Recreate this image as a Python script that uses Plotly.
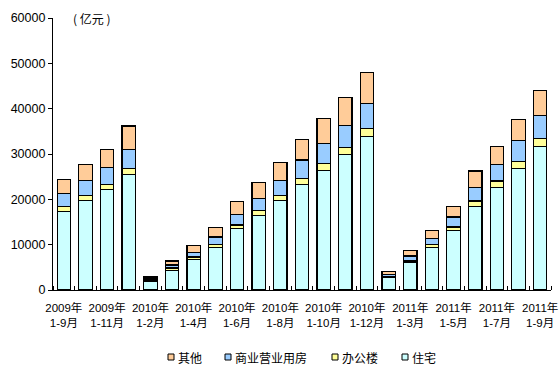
import plotly.graph_objects as go

periods = ["2009年<br>1-9月", "2009年<br>1-10月", "2009年<br>1-11月", "2009年<br>1-12月",
           "2010年<br>1-2月", "2010年<br>1-3月", "2010年<br>1-4月", "2010年<br>1-5月",
           "2010年<br>1-6月", "2010年<br>1-7月", "2010年<br>1-8月", "2010年<br>1-9月",
           "2010年<br>1-10月", "2010年<br>1-11月", "2010年<br>1-12月",
           "2011年<br>1-2月", "2011年<br>1-3月", "2011年<br>1-4月", "2011年<br>1-5月",
           "2011年<br>1-6月", "2011年<br>1-7月", "2011年<br>1-8月", "2011年<br>1-9月"]

residential = [17360, 19790, 22210, 25520, 1900, 4340, 6770, 9410, 13600, 16470, 19780,
               23310, 26400, 29940, 33900, 2700, 6030, 9410, 13090, 18460, 22650, 26840, 31620]
office = [1100, 1100, 1110, 1330, 300, 510, 510, 660, 740, 1110, 1100,
          1330, 1550, 1540, 1770, 350, 370, 590, 810, 1170, 1400, 1550, 1840]
commercial = [2840, 3310, 3750, 4190, 450, 670, 1030, 1620, 2360, 2640, 3310,
              4040, 4410, 4850, 5510, 450, 1100, 1400, 2200, 3020, 3680, 4630, 5080]
other = [3100, 3530, 3970, 5140, 400, 880, 1550, 2140, 2860, 3530, 3970,
         4560, 5510, 6170, 6840, 600, 1250, 1760, 2360, 3600, 3970, 4630, 5510]

series = [("住宅", residential, "#CCFFFF"),
          ("办公楼", office, "#FFFF99"),
          ("商业营业用房", commercial, "#99CCFF"),
          ("其他", other, "#FFCC99")]

y_ticks = [0, 10000, 20000, 30000, 40000, 50000, 60000]
y_ticktext = ["0", "10000", "20000", "30000", "40000", "50000", "60000"]

# layout constants (pixels)
W, H = 560, 377
ML, MR, MT, MB = 53, 9, 18, 87
PW, PH = W - ML - MR, H - MT - MB


def px_x(p):
    return (p - ML) / PW


def px_y(p):
    return (H - MB - p) / PH


xs = list(range(len(periods)))
fig = go.Figure()
for name, vals, color in series:
    fig.add_trace(go.Bar(x=xs, y=vals, name=name, showlegend=False,
                         marker=dict(color=color, line=dict(color="black", width=1.2))))

# custom legend (order as in reference: 其他, 商业营业用房, 办公楼, 住宅)
legend_left = {"其他": 168, "商业营业用房": 225, "办公楼": 332, "住宅": 402}
legend_cy = 357
shapes, annotations = [], []
for name, vals, color in series:
    lx = legend_left[name]
    shapes.append(dict(type="rect", xref="paper", yref="paper",
                       x0=px_x(lx), x1=px_x(lx + 6),
                       y0=px_y(legend_cy + 3), y1=px_y(legend_cy - 3),
                       fillcolor=color, line=dict(color="black", width=1)))
    annotations.append(dict(text=name, xref="paper", yref="paper",
                            x=px_x(lx + 8), y=px_y(legend_cy), xanchor="left",
                            yanchor="middle", showarrow=False,
                            font=dict(size=12, family="Noto Sans CJK SC", color="black")))

annotations.append(dict(text="( 亿元 )", xref="paper", yref="paper", x=px_x(71), y=px_y(18),
                        xanchor="left", yanchor="middle", showarrow=False,
                        font=dict(size=12, family="Noto Sans CJK SC", color="black")))

label_idx = xs[::2]
font_family = "Liberation Sans, Arial, Noto Sans CJK SC"
fig.update_layout(
    barmode="stack",
    bargap=0.38,
    width=W, height=H,
    margin=dict(l=ML, r=MR, t=MT, b=MB, autoexpand=False),
    plot_bgcolor="white", paper_bgcolor="white",
    font=dict(family=font_family, size=12, color="black"),
    showlegend=False,
    hovermode=False,
    xaxis=dict(range=[-0.5, len(periods) - 0.5], tickmode="array", tickvals=label_idx,
               ticktext=[periods[i] for i in label_idx], ticks="", showline=True,
               linecolor="black", linewidth=1.2, showgrid=False, zeroline=False,
               tickfont=dict(size=11.5), ticklabelstandoff=7,
               minor=dict(tickmode="linear", tick0=-0.5, dtick=1, ticks="inside",
                          ticklen=4, tickcolor="black", tickwidth=1, showgrid=False)),
    yaxis=dict(range=[0, 60000], tickvals=y_ticks, ticktext=y_ticktext, ticks="outside",
               ticklen=4, tickcolor="black", showline=True, linecolor="black",
               linewidth=1.2, showgrid=False, zeroline=False, tickfont=dict(size=12.5)),
    shapes=shapes,
    annotations=annotations,
)

fig.write_html("out.html", config={"displayModeBar": False},
               post_script="document.body.style.margin='0';")
